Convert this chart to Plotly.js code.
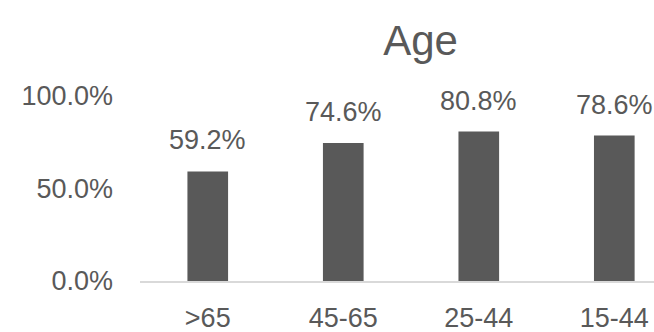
<!DOCTYPE html>
<html>
<head>
<meta charset="utf-8">
<script src="https://cdn.plot.ly/plotly-3.0.1.min.js"></script>
<style>
html, body { margin: 0; padding: 0; background: #ffffff; }
#chart { width: 654px; height: 332px; }
</style>
</head>
<body>
<div id="chart"></div>
<script>
const categories = ['>65', '45-65', '25-44', '15-44'];
const values = [59.2, 74.6, 80.8, 78.6];
const yTickVals = [0, 50, 100];
const yTickText = ['0.0%', '50.0%', '100.0%'];
const chartTitle = 'Age';

const FONT = '"Liberation Sans", Arial, sans-serif';
const GREY = '#595959';

const trace = {
  type: 'bar',
  x: categories,
  y: values,
  marker: { color: GREY },
  hoverinfo: 'skip'
};

const annotations = categories.map((c, i) => ({
  x: c,
  y: values[i],
  xref: 'x',
  yref: 'y',
  text: values[i].toFixed(1) + '%',
  showarrow: false,
  yanchor: 'bottom',
  yshift: 14,
  font: { family: FONT, size: 27, color: GREY }
}));

const layout = {
  width: 654,
  height: 332,
  margin: { l: 140, r: 0, t: 96, b: 51 },
  paper_bgcolor: '#ffffff',
  plot_bgcolor: '#ffffff',
  showlegend: false,
  bargap: 0.7,
  title: {
    text: chartTitle,
    font: { family: FONT, size: 42, color: GREY },
    x: 357 / 654,
    xref: 'paper',
    xanchor: 'center',
    y: 1 - 40 / 332,
    yref: 'container',
    yanchor: 'middle'
  },
  xaxis: {
    type: 'category',
    range: [-0.5, 3.293],
    showline: true,
    linecolor: '#d9d9d9',
    linewidth: 2,
    showgrid: false,
    zeroline: false,
    ticks: '',
    ticklabelstandoff: 12,
    tickfont: { family: FONT, size: 27, color: GREY },
    fixedrange: true
  },
  yaxis: {
    range: [0, 100],
    tickvals: yTickVals,
    ticktext: yTickText,
    showline: false,
    showgrid: false,
    zeroline: false,
    ticks: '',
    ticklabelstandoff: 26,
    tickfont: { family: FONT, size: 27, color: GREY },
    fixedrange: true
  },
  annotations: annotations
};

Plotly.newPlot('chart', [trace], layout, { displayModeBar: false, staticPlot: true });
</script>
</body>
</html>
